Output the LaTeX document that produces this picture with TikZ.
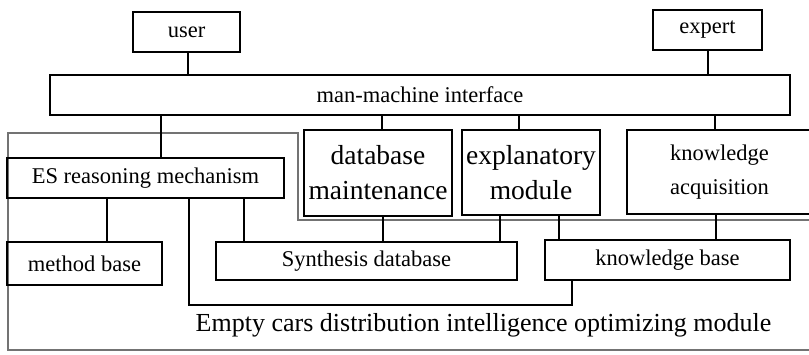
\documentclass[tikz,border=0pt]{standalone}
\usepackage{fontspec}
\setmainfont{Liberation Serif}
\begin{document}
\begin{tikzpicture}[x=1pt,y=-1pt,
  box/.style={draw, line width=1.6pt, rectangle, inner sep=0pt, align=center,
              font=\fontsize{22.5}{25}\selectfont},
  bigbox/.style={box, font=\fontsize{27.5}{35}\selectfont},
  link/.style={line width=1.4pt},
  frame/.style={draw=black!55, line width=1.3pt}]
\useasboundingbox (0,0) rectangle (809,354);

% outer module frame
\draw[frame] (815,350) -- (8,350) -- (8,133) -- (298,133) -- (298,220) -- (815,220);

% top row
\node[box, minimum width=107pt, minimum height=40pt] (user) at (186.5,32) {user};
\node[box, minimum width=109pt, minimum height=40pt] (expert) at (707.5,30) {expert};
\node[box, minimum width=740pt, minimum height=40pt] (mmi) at (420,95) {man-machine interface};

% second row
\node[box, minimum width=277pt, minimum height=40pt] (es) at (145.5,178) {ES reasoning mechanism};
\node[bigbox, minimum width=148pt, minimum height=86pt] (dbm) at (378,173) {database\\maintenance};
\node[bigbox, minimum width=138pt, minimum height=85pt] (expl) at (531,172.5) {explanatory\\module};
\node[box, minimum width=185pt, minimum height=84pt, font=\fontsize{22.5}{34}\selectfont] (kacq) at (719.5,172) {knowledge\\acquisition};

% third row
\node[box, minimum width=155pt, minimum height=43pt] (meth) at (84.5,263.5) {method base};
\node[box, minimum width=301pt, minimum height=38pt] (synth) at (366.5,261) {Synthesis database};
\node[box, minimum width=245pt, minimum height=40pt] (kb) at (667.5,260) {knowledge base};

\node[font=\fontsize{26}{30}\selectfont, inner sep=0pt] (title) at (483.5,325)
  {Empty cars distribution intelligence optimizing module};

% connectors
\draw[link] (188,0 |- user.south) -- (188,0 |- mmi.north);
\draw[link] (708,0 |- expert.south) -- (708,0 |- mmi.north);
\draw[link] (161,0 |- mmi.south) -- (161,0 |- es.north);
\draw[link] (382,0 |- mmi.south) -- (382,0 |- dbm.north);
\draw[link] (519,0 |- mmi.south) -- (519,0 |- expl.north);
\draw[link] (715,0 |- mmi.south) -- (715,0 |- kacq.north);

\draw[link] (107,0 |- es.south) -- (107,0 |- meth.north);
\draw[link] (244,0 |- es.south) -- (244,0 |- synth.north);
\draw[link] (383,0 |- dbm.south) -- (383,0 |- synth.north);
\draw[link] (500,0 |- expl.south) -- (500,0 |- synth.north);
\draw[link] (559,0 |- expl.south) -- (559,0 |- kb.north);
\draw[link] (716,0 |- kacq.south) -- (716,0 |- kb.north);

\coordinate (c1) at (189,305);
\coordinate (c2) at (572,305);
\draw[link] (189,0 |- es.south) -- (c1) -- (c2) -- (572,0 |- kb.south);
\end{tikzpicture}
\end{document}
